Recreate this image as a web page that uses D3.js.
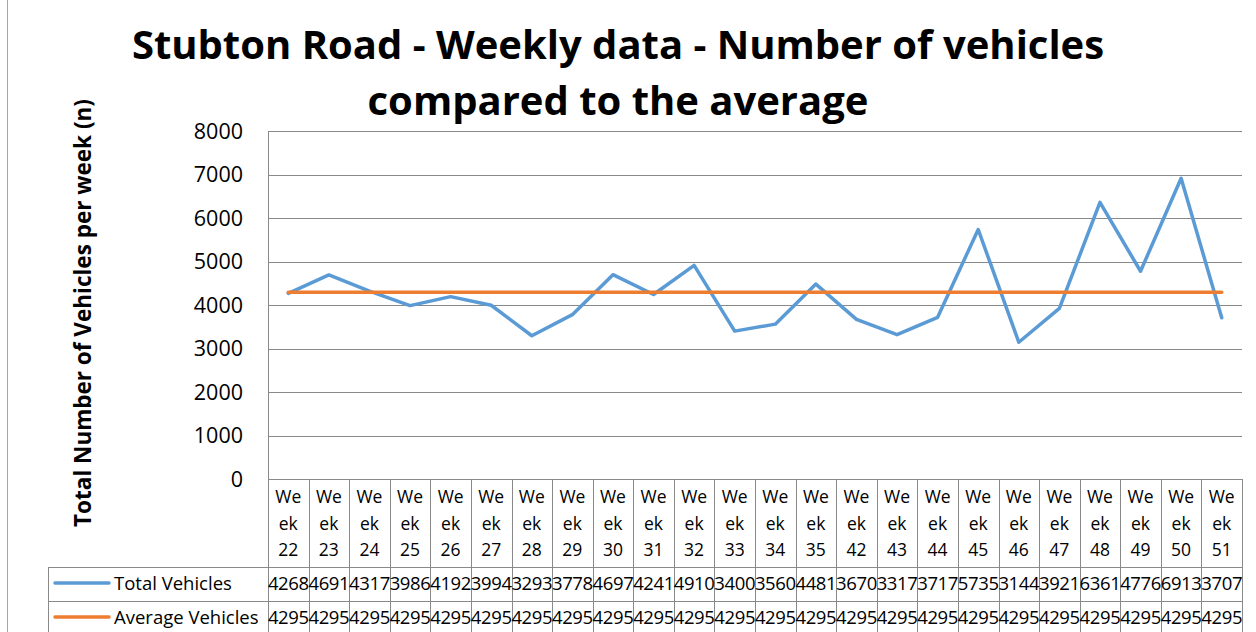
<!DOCTYPE html>
<html>
<head>
<meta charset="utf-8">
<script src="https://cdn.jsdelivr.net/npm/d3@7"></script>
<style>
  body { margin: 0; background: #fff; }
  svg { display: block; }
  text { font-family: "Open Sans", "Noto Sans", sans-serif; fill: #000; }
</style>
</head>
<body>
<div id="chart"></div>
<script>
const weeks = ["22", "23", "24", "25", "26", "27", "28", "29", "30", "31", "32", "33",
    "34", "35", "42", "43", "44", "45", "46", "47", "48", "49", "50", "51"];
const totalVehicles = [4268, 4691, 4317, 3986, 4192, 3994, 3293, 3778, 4697, 4241, 4910, 3400,
    3560, 4481, 3670, 3317, 3717, 5735, 3144, 3921, 6361, 4776, 6913, 3707];
const averageVehicles = [4295, 4295, 4295, 4295, 4295, 4295, 4295, 4295, 4295, 4295, 4295, 4295,
    4295, 4295, 4295, 4295, 4295, 4295, 4295, 4295, 4295, 4295, 4295, 4295];
const yTicks = [0, 1000, 2000, 3000, 4000, 5000, 6000, 7000, 8000];

const width = 1256,
    height = 632,
    plotLeft = 268,
    plotRight = 1242,
    plotTop = 131,
    plotBottom = 479,
    headerBottom = 567, // bottom of the week label row
    rowH = 34, // height of one data row
    tableLeft = 48,
    gridColor = "#898989"

const series = [
    {name: "Total Vehicles", values: totalVehicles, color: "#5b9bd5"},
    {name: "Average Vehicles", values: averageVehicles, color: "#ed7d31"}
];

const x = d3.scaleBand().domain(weeks).range([plotLeft, plotRight]);
const y = d3.scaleLinear().domain([0, 8000]).range([plotBottom, plotTop]);

const svg = d3.select("#chart")
    .append("svg")
    .attr("width", width)
    .attr("height", height);

// outer chart border (left edge only is visible)
svg.append("line")
    .attr("x1", 7.5).attr("x2", 7.5)
    .attr("y1", 0).attr("y2", height)
    .attr("stroke", "#a6a6a6");

// title
const title = svg.append("g")
    .attr("font-weight", "bold")
    .attr("text-anchor", "middle")
    .attr("font-size", 40);
title.append("text").attr("x", 618).attr("y", 59).text("Stubton Road - Weekly data - Number of vehicles");
title.append("text").attr("x", 618).attr("y", 115).text("compared to the average");

// y axis title
svg.append("text")
    .attr("transform", "translate(91,313) rotate(-90)")
    .attr("text-anchor", "middle")
    .attr("font-weight", "bold")
    .attr("font-size", 22.5)
    .text("Total Number of Vehicles per week (n)");

// gridlines
svg.append("g")
    .selectAll("line")
    .data(yTicks)
    .join("line")
    .attr("x1", plotLeft)
    .attr("x2", plotRight)
    .attr("y1", d => Math.round(y(d)) + 0.5)
    .attr("y2", d => Math.round(y(d)) + 0.5)
    .attr("stroke", gridColor)
    .attr("stroke-width", 1);

// y tick labels
svg.append("g")
    .attr("font-size", 21.5)
    .attr("text-anchor", "end")
    .selectAll("text")
    .data(yTicks)
    .join("text")
    .attr("x", 243)
    .attr("y", d => y(d))
    .attr("dy", "0.36em")
    .text(d => d);

// data table grid
const tableBottom = headerBottom + rowH * 2 + 4;
const grid = svg.append("g")
    .attr("stroke", gridColor)
    .attr("stroke-width", 1);

grid.append("line")
    .attr("x1", plotLeft + 0.5).attr("x2", plotLeft + 0.5)
    .attr("y1", plotTop).attr("y2", tableBottom);

grid.selectAll("line.col")
    .data(weeks)
    .join("line")
    .attr("class", "col")
    .attr("x1", d => Math.round(x(d) + x.bandwidth()) + 0.5)
    .attr("x2", d => Math.round(x(d) + x.bandwidth()) + 0.5)
    .attr("y1", plotBottom)
    .attr("y2", tableBottom);

grid.selectAll("line.row")
    .data([0, 1])
    .join("line")
    .attr("class", "row")
    .attr("x1", tableLeft)
    .attr("x2", plotRight)
    .attr("y1", d => headerBottom + d * rowH + 0.5)
    .attr("y2", d => headerBottom + d * rowH + 0.5);

grid.append("line")
    .attr("x1", tableLeft + 0.5).attr("x2", tableLeft + 0.5)
    .attr("y1", headerBottom).attr("y2", tableBottom);

// week labels, wrapped like the original ("We" / "ek" / number)
svg.append("g")
    .attr("font-size", 17.5)
    .attr("text-anchor", "middle")
    .selectAll("text")
    .data(weeks)
    .join("text")
    .attr("x", d => x(d) + x.bandwidth() / 2)
    .attr("y", 496)
    .selectAll("tspan")
    .data(d => ["We", "ek", d])
    .join("tspan")
    .attr("x", function () { return this.parentNode.getAttribute("x"); })
    .attr("dy", (_, i) => i ? 26.5 : 0)
    .attr("dominant-baseline", "central")
    .text(d => d);

// table rows: legend key + values
const rows = svg.append("g")
    .selectAll("g")
    .data(series)
    .join("g")
    .attr("transform", (d, i) => `translate(0,${headerBottom + i * rowH + rowH / 2 - 1})`);

rows.append("line")
    .attr("x1", 55).attr("x2", 109)
    .attr("stroke", d => d.color)
    .attr("stroke-width", 3.5)
    .attr("stroke-linecap", "round");

rows.append("text")
    .attr("x", 114)
    .attr("dy", "0.36em")
    .attr("font-size", 18.5)
    .text(d => d.name);

rows.selectAll("text.val")
    .data(d => d.values)
    .join("text")
    .attr("class", "val")
    .attr("x", (d, i) => x(weeks[i]) + x.bandwidth() / 2)
    .attr("dy", "0.36em")
    .attr("text-anchor", "middle")
    .attr("font-size", 18.5)
    .attr("letter-spacing", -0.4)
    .text(d => d);

// series lines
const line = d3.line()
    .x((d, i) => x(weeks[i]) + x.bandwidth() / 2)
    .y(d => y(d));

svg.append("g")
    .selectAll("path")
    .data(series)
    .join("path")
    .attr("fill", "none")
    .attr("stroke", d => d.color)
    .attr("stroke-width", 3.5)
    .attr("stroke-linejoin", "round")
    .attr("stroke-linecap", "round")
    .attr("d", d => line(d.values));
</script>
</body>
</html>
